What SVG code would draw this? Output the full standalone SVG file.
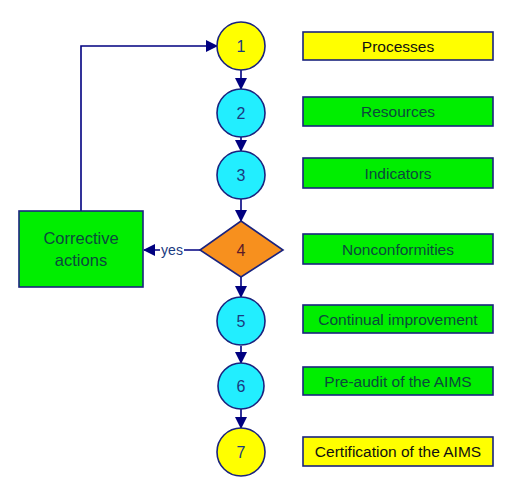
<svg xmlns="http://www.w3.org/2000/svg" width="509" height="491" viewBox="0 0 509 491">
<defs>
<style>
.c{stroke:#1a237e;stroke-width:1.6}
.y{fill:#ffff00}
.b{fill:#22eeff}
.g{fill:#00ee00}
.o{fill:#f7901e}
.bx{stroke:#1a237e;stroke-width:1.6}
text{font-family:"Liberation Sans",Arial,sans-serif;text-anchor:middle}
.n{font-size:16px;fill:#1a3a80}
.t{font-size:15.5px;fill:#0b4a3c}
.tk{font-size:15.5px;fill:#111}
.ln{fill:none;stroke:#000080;stroke-width:1.6}
</style>
<marker id="ar" markerWidth="12" markerHeight="12" refX="11" refY="6" orient="auto" markerUnits="userSpaceOnUse">
<path d="M0,0 L12,6 L0,12 Z" fill="#000080"/>
</marker>
</defs>
<rect width="509" height="491" fill="#fff"/>
<g id="connectors">
<path class="ln" d="M241,70 V89" marker-end="url(#ar)"/>
<path class="ln" d="M241,137 V151" marker-end="url(#ar)"/>
<path class="ln" d="M241,199 V221" marker-end="url(#ar)"/>
<path class="ln" d="M241,277 V297" marker-end="url(#ar)"/>
<path class="ln" d="M241,346 V363" marker-end="url(#ar)"/>
<path class="ln" d="M241,409 V428" marker-end="url(#ar)"/>
<path class="ln" d="M200,250 H144" marker-end="url(#ar)"/>
<path class="ln" d="M81,211 V46 H217" marker-end="url(#ar)"/>
<rect x="160" y="242" width="24" height="14" fill="#fff"/>
<text x="172" y="255" style="font-size:14px;fill:#1a3a80">yes</text>
</g>
<g id="n1"><circle class="c y" cx="241" cy="46" r="24"/><text class="n" x="241" y="52">1</text></g>
<g id="n2"><circle class="c b" cx="241" cy="113" r="24"/><text class="n" x="241" y="119">2</text></g>
<g id="n3"><circle class="c b" cx="241" cy="175" r="24"/><text class="n" x="241" y="181">3</text></g>
<g id="n4"><polygon class="c o" points="241,221 283,250 241,277 200,250"/><text x="241" y="256" style="font-size:16px;fill:#5a1a2a">4</text></g>
<g id="n5"><circle class="c b" cx="241" cy="321" r="24"/><text class="n" x="241" y="327">5</text></g>
<g id="n6"><circle class="c b" cx="241" cy="386" r="23"/><text class="n" x="241" y="392">6</text></g>
<g id="n7"><circle class="c y" cx="241" cy="452" r="24"/><text class="n" x="241" y="458">7</text></g>
<g id="ca"><rect class="bx g" x="19" y="211" width="124" height="76"/><text x="81" y="244" style="font-size:16.5px;fill:#0b4a3c">Corrective</text><text x="81" y="266" style="font-size:16.5px;fill:#0b4a3c">actions</text></g>
<g id="l1"><rect class="bx y" x="303" y="32" width="190" height="28"/><text class="tk" x="398" y="52">Processes</text></g>
<g id="l2"><rect class="bx g" x="303" y="97" width="190" height="29"/><text class="t" x="398" y="117">Resources</text></g>
<g id="l3"><rect class="bx g" x="303" y="158" width="190" height="30"/><text class="t" x="398" y="179">Indicators</text></g>
<g id="l4"><rect class="bx g" x="303" y="234" width="190" height="30"/><text class="t" x="398" y="255">Nonconformities</text></g>
<g id="l5"><rect class="bx g" x="303" y="305" width="190" height="28"/><text class="t" x="398" y="325">Continual improvement</text></g>
<g id="l6"><rect class="bx g" x="303" y="367" width="190" height="28"/><text class="t" x="398" y="387">Pre-audit of the AIMS</text></g>
<g id="l7"><rect class="bx y" x="303" y="437" width="190" height="29"/><text class="tk" x="398" y="457">Certification of the AIMS</text></g>
</svg>
